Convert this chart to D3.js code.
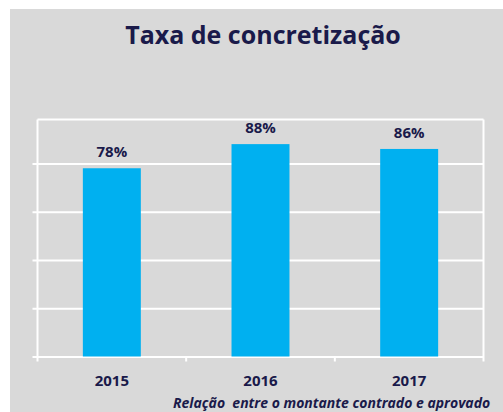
<!DOCTYPE html>
<html>
<head>
<meta charset="utf-8">
<script src="https://cdn.jsdelivr.net/npm/d3@7"></script>
<style>
  body { margin: 0; background: #fff; }
  text { font-family: "Open Sans", sans-serif; }
</style>
</head>
<body>
<div id="chart"></div>
<script>
const years = ['2015', '2016', '2017'];
const rates = [0.78, 0.88, 0.86];
const rateLabels = ['78%', '88%', '86%'];
const gridTicks = [0, 0.2, 0.4, 0.6, 0.8];

const w = 503, h = 412;
const navy = '#1a1a4a';

let svg = d3.select('#chart').append('svg')
  .attr('width', w)
  .attr('height', h);

// grey chart panel
svg.append('rect')
  .attr('x', 10).attr('y', 9)
  .attr('width', w - 10).attr('height', h - 9)
  .attr('fill', '#d9d9d9');

const plotLeft = 37.5, plotRight = 483.5, plotTop = 119.5, plotBottom = 356.5;

const xScale = d3.scaleBand()
  .domain(years)
  .range([plotLeft, plotRight])
  .paddingInner(0.61)
  .paddingOuter(0.305);

const yScale = d3.scaleLinear()
  .domain([0, 0.982])
  .range([plotBottom, plotTop]);

// gridlines + left ticks
const yAxis = d3.axisLeft(yScale)
  .tickValues(gridTicks)
  .tickSize(-(plotRight - plotLeft))
  .tickFormat('');
let gy = svg.append('g')
  .attr('transform', 'translate(' + plotLeft + ',0)')
  .call(yAxis);
gy.select('.domain').remove();
gy.selectAll('.tick line')
  .attr('x1', -5)
  .attr('stroke', '#fff')
  .attr('stroke-width', 2);

// plot border top / right / left
svg.append('line')
  .attr('x1', plotLeft).attr('x2', plotRight)
  .attr('y1', plotTop).attr('y2', plotTop)
  .attr('stroke', '#fff').attr('stroke-width', 2);
svg.append('line')
  .attr('x1', plotRight).attr('x2', plotRight)
  .attr('y1', plotTop).attr('y2', plotBottom + 5)
  .attr('stroke', '#fff').attr('stroke-width', 2);
svg.append('line')
  .attr('x1', plotLeft).attr('x2', plotLeft)
  .attr('y1', plotTop).attr('y2', plotBottom + 5)
  .attr('stroke', '#fff').attr('stroke-width', 2);

// x axis ticks between categories
const xAxis = d3.axisBottom(xScale).tickSize(0).tickFormat('');
let gx = svg.append('g')
  .attr('transform', 'translate(0,' + plotBottom + ')')
  .call(xAxis);
gx.select('.domain').remove();
const step = xScale.step();
years.slice(1).forEach(yr => {
  let xx = xScale(yr) - step * xScale.paddingInner() / 2;
  gx.append('line')
    .attr('x1', xx).attr('x2', xx)
    .attr('y1', 0).attr('y2', 5)
    .attr('stroke', '#fff').attr('stroke-width', 2);
});

// bars
svg.selectAll('rect.bar')
  .data(rates)
  .enter()
  .append('rect')
  .attr('class', 'bar')
  .attr('x', (d, i) => xScale(years[i]))
  .attr('y', d => yScale(d))
  .attr('width', xScale.bandwidth())
  .attr('height', d => plotBottom - yScale(d))
  .attr('fill', '#00b0f0');

// value labels
svg.selectAll('text.val')
  .data(rates)
  .enter()
  .append('text')
  .attr('class', 'val')
  .attr('x', (d, i) => xScale(years[i]) + xScale.bandwidth() / 2)
  .attr('y', d => yScale(d) - 11)
  .attr('text-anchor', 'middle')
  .attr('font-size', 15)
  .attr('font-weight', 'bold')
  .attr('fill', navy)
  .text((d, i) => rateLabels[i]);

// category labels
svg.selectAll('text.cat')
  .data(years)
  .enter()
  .append('text')
  .attr('class', 'cat')
  .attr('x', d => xScale(d) + xScale.bandwidth() / 2)
  .attr('y', plotBottom + 29.5)
  .attr('text-anchor', 'middle')
  .attr('font-size', 15)
  .attr('font-weight', 'bold')
  .attr('fill', navy)
  .text(d => d);

// title
svg.append('text')
  .attr('x', 263)
  .attr('y', 44)
  .attr('text-anchor', 'middle')
  .attr('font-size', 25)
  .attr('font-weight', 'bold')
  .attr('fill', navy)
  .text('Taxa de concretização');

// footnote (keeps the double space)
svg.append('text')
  .attr('x', 173)
  .attr('y', 407.5)
  .attr('font-size', 14)
  .attr('font-weight', 'bold')
  .attr('font-style', 'italic')
  .attr('fill', navy)
  .style('white-space', 'pre')
  .text('Relação  entre o montante contrado e aprovado');
</script>
</body>
</html>
